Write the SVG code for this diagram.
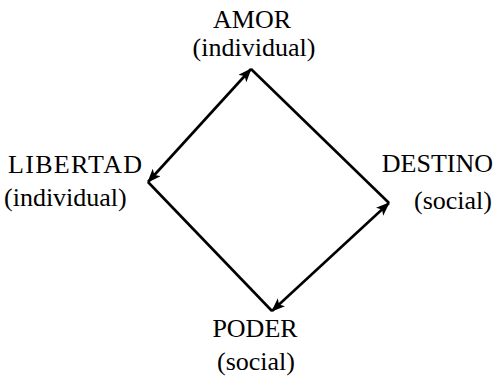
<svg xmlns="http://www.w3.org/2000/svg" width="500" height="376" viewBox="0 0 500 376">
<style>
text{font-family:"Liberation Serif","Times New Roman",serif;font-size:26px;fill:#000}
.ln{stroke:#000;stroke-width:2.6;fill:none}
</style>
<defs>
<marker id="ah" viewBox="0 0 14 11" refX="13" refY="5.5" markerWidth="14" markerHeight="11" markerUnits="userSpaceOnUse" orient="auto-start-reverse">
<path d="M0,0 L14,5.5 L0,11 L3.5,5.5 Z" fill="#000"/>
</marker>
</defs>
<rect width="500" height="376" fill="#fff"/>
<g id="connectors">
<line class="ln" x1="148" y1="182" x2="251" y2="69" marker-start="url(#ah)" marker-end="url(#ah)"/>
<line class="ln" x1="251" y1="69" x2="389" y2="203"/>
<line class="ln" x1="148" y1="182" x2="272" y2="311"/>
<line class="ln" x1="272" y1="311" x2="389" y2="203" marker-start="url(#ah)" marker-end="url(#ah)"/>
</g>
<g id="amor">
<text x="252" y="28" text-anchor="middle">AMOR</text>
<text x="254" y="56" text-anchor="middle">(individual)</text>
</g>
<g id="libertad">
<text x="8" y="173" letter-spacing="1.3">LIBERTAD</text>
<text x="4" y="206">(individual)</text>
</g>
<g id="destino">
<text x="493" y="172" text-anchor="end">DESTINO</text>
<text x="492" y="209" text-anchor="end">(social)</text>
</g>
<g id="poder">
<text x="255" y="337" text-anchor="middle">PODER</text>
<text x="256" y="370" text-anchor="middle">(social)</text>
</g>
</svg>
